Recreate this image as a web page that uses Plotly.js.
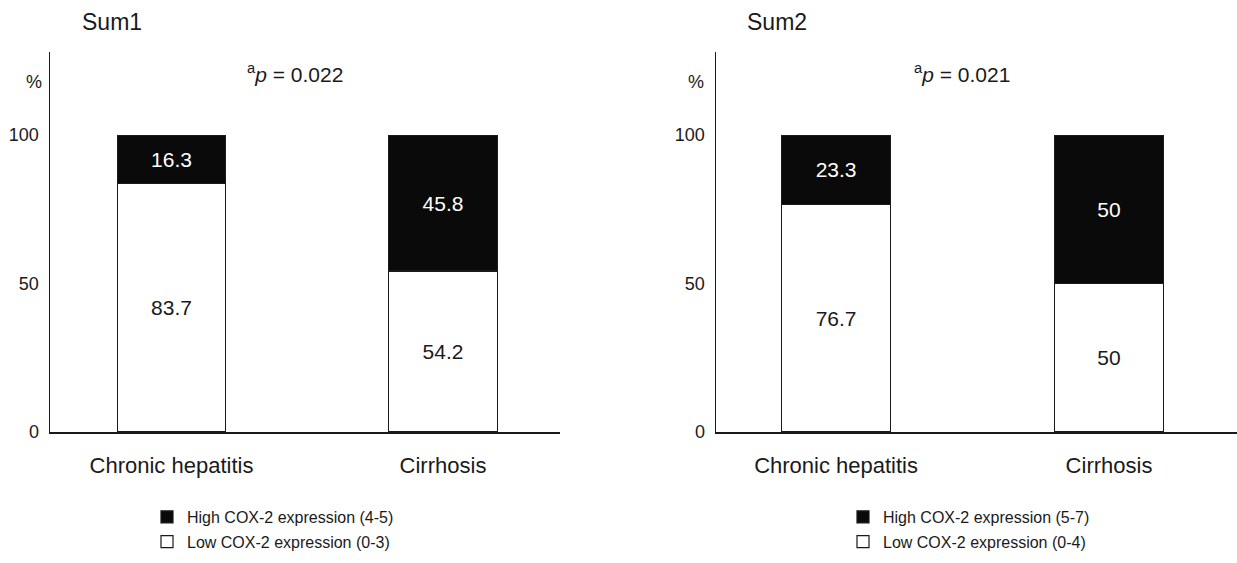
<!DOCTYPE html>
<html>
<head>
<meta charset="utf-8">
<script src="https://cdn.plot.ly/plotly-3.0.1.min.js"></script>
<style>html,body{margin:0;padding:0;background:#fff;}#chart{width:1237px;height:563px;}</style>
</head>
<body>
<div id="chart"></div>
<script>
const categories = ['Chronic hepatitis', 'Cirrhosis'];
const sum1Low = [83.7, 54.2];
const sum1High = [16.3, 45.8];
const sum2Low = [76.7, 50];
const sum2High = [23.3, 50];
const yTickVals = [0, 50, 100];
const yTickText = ['0', '50', '100'];
const panelTitles = ['Sum1', 'Sum2'];
const pValues = ['0.022', '0.021'];
const sum1Legend = ['High COX-2 expression (4-5)', 'Low COX-2 expression (0-3)'];
const sum2Legend = ['High COX-2 expression (5-7)', 'Low COX-2 expression (0-4)'];

const FONT = 'Liberation Sans, Arial, Helvetica, sans-serif';
const INK = '#1a1a1a';

function bar(y, name, fill, textColor, xa, ya, legend, rank, group) {
  return {
    type: 'bar', x: categories, y: y, name: name,
    xaxis: xa, yaxis: ya, legend: legend, legendrank: rank, legendgroup: group,
    width: 0.4,
    marker: {color: fill, line: {color: INK, width: 1.2}},
    texttemplate: '%{y}', textposition: 'inside', insidetextanchor: 'middle',
    textangle: 0,
    textfont: {family: FONT, size: 21, color: textColor},
    insidetextfont: {family: FONT, size: 21, color: textColor},
    hoverinfo: 'skip'
  };
}

const data = [
  bar(sum1Low, sum1Legend[1], '#ffffff', INK, 'x', 'y', 'legend', 2, 'a'),
  bar(sum1High, sum1Legend[0], '#0a0a0a', '#ffffff', 'x', 'y', 'legend', 1, 'b'),
  bar(sum2Low, sum2Legend[1], '#ffffff', INK, 'x2', 'y2', 'legend2', 2, 'c'),
  bar(sum2High, sum2Legend[0], '#0a0a0a', '#ffffff', 'x2', 'y2', 'legend2', 1, 'd')
];

const W = 1237, H = 563;
const px = v => v / W, py = v => 1 - v / H;

function xaxis(domain, range) {
  return {
    domain: domain, range: range, showline: true, linecolor: INK, linewidth: 1.5,
    showgrid: false, zeroline: false, ticks: '', ticklabelstandoff: 13,
    tickfont: {family: FONT, size: 22, color: INK}, fixedrange: true
  };
}
function yaxis(anchor) {
  return {
    domain: [py(432), py(52)], range: [0, 128], anchor: anchor,
    showline: true, linecolor: INK, linewidth: 1.5, showgrid: false, zeroline: false,
    ticks: '', tickvals: yTickVals, ticktext: yTickText, ticklabelstandoff: 6,
    tickfont: {family: FONT, size: 18, color: INK}, fixedrange: true
  };
}

function legend(x) {
  return {
    x: x, y: py(500), xanchor: 'left', yanchor: 'top', bgcolor: 'rgba(0,0,0,0)',
    font: {family: FONT, size: 16, color: INK}, tracegroupgap: 1,
    traceorder: 'grouped', itemclick: false
  };
}

const ann = (x, y, text, size, opts) => Object.assign({
  xref: 'paper', yref: 'paper', x: px(x), y: py(y), text: text, showarrow: false,
  xanchor: 'center', yanchor: 'middle', font: {family: FONT, size: size, color: INK}
}, opts || {});

const layout = {
  width: W, height: H, margin: {l: 0, r: 0, t: 0, b: 0},
  paper_bgcolor: '#fff', plot_bgcolor: '#fff', barmode: 'stack', showlegend: true,
  xaxis: xaxis([px(50), px(560)], [-0.4475, 1.431]),
  yaxis: yaxis('x'),
  xaxis2: xaxis([px(716), 1], [-0.44, 1.469]),
  yaxis2: yaxis('x2'),
  legend: legend(px(147)),
  legend2: legend(px(843)),
  annotations: [
    ann(112, 22, panelTitles[0], 23),
    ann(777, 22, panelTitles[1], 23),
    ann(34, 82, '%', 18),
    ann(696, 82, '%', 18),
    ann(295, 73, '<sup>a</sup><i>p</i> = ' + pValues[0], 21),
    ann(962, 73, '<sup>a</sup><i>p</i> = ' + pValues[1], 21)
  ]
};

Plotly.newPlot('chart', data, layout, {staticPlot: true, displayModeBar: false});
</script>
</body>
</html>
